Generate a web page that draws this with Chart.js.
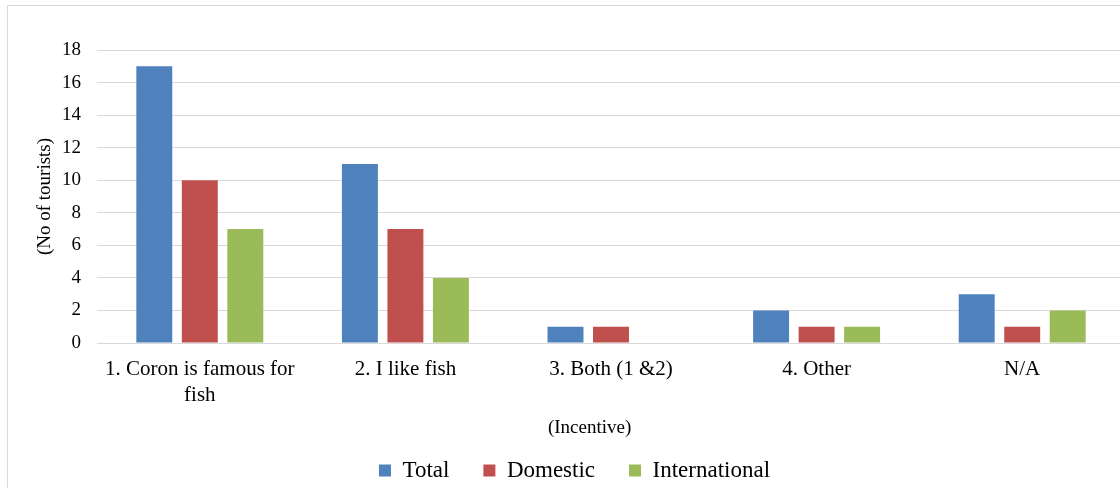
<!DOCTYPE html>
<html>
<head>
<meta charset="utf-8">
<script src="https://cdn.jsdelivr.net/npm/chart.js@4.4.1/dist/chart.umd.min.js"></script>
<style>
  html, body { margin: 0; padding: 0; background: #fff; overflow: hidden; }
  #wrap { position: absolute; left: 7px; top: 5px; width: 1130px; height: 500px; border: 1px solid #d9d9d9; }
</style>
</head>
<body>
<div id="wrap"><canvas id="chart" width="1130" height="500"></canvas></div>
<script>
var categories = [['1. Coron is famous for', 'fish'], '2. I like fish', '3. Both (1 &2)', '4. Other', 'N/A'];
var totalValues = [17, 11, 1, 2, 3];
var domesticValues = [10, 7, 1, 1, 1];
var internationalValues = [7, 4, 0, 1, 2];
var yMin = 0, yMax = 18, yStep = 2;

var serif = "'Liberation Serif', 'Times New Roman', serif";

// nudge the legend right so it sits where the original one does
var legendShift = {
    id: 'legendShift',
    afterLayout: function (chart) {
        chart.legend.left += 8;
        chart.legend.right += 8;
    }
};

var ctx = document.getElementById('chart');
new Chart(ctx, {
    type: 'bar',
    data: {
        labels: categories,
        datasets: [
            { label: 'Total', data: totalValues, backgroundColor: '#4F81BD', borderWidth: 0 },
            { label: 'Domestic', data: domesticValues, backgroundColor: '#C0504D', borderWidth: 0 },
            { label: 'International', data: internationalValues, backgroundColor: '#9BBB59', borderWidth: 0 }
        ]
    },
    options: {
        responsive: false,
        animation: false,
        categoryPercentage: 0.664,
        barPercentage: 0.79,
        layout: { padding: { top: 44, right: 13, bottom: 14, left: 0 } },
        plugins: {
            tooltip: { enabled: false },
            legend: {
                position: 'bottom',
                labels: {
                    boxWidth: 12,
                    boxHeight: 12,
                    padding: 34,
                    color: '#000',
                    font: { family: serif, size: 23 }
                }
            }
        },
        scales: {
            x: {
                grid: { display: false, drawTicks: false },
                border: { display: false },
                ticks: {
                    color: '#000',
                    padding: 14,
                    maxRotation: 0,
                    autoSkip: false,
                    font: { family: serif, size: 21, lineHeight: 1.22 }
                },
                title: {
                    display: true,
                    text: '(Incentive)         ',
                    color: '#000',
                    padding: { top: 0, bottom: -14 },
                    font: { family: serif, size: 19 }
                },
                afterFit: function (scale) { scale.height = 82; }
            },
            y: {
                min: yMin,
                max: yMax,
                grid: { color: '#d9d9d9', lineWidth: 1, drawTicks: false },
                border: { display: false },
                ticks: {
                    stepSize: yStep,
                    color: '#000',
                    padding: 16,
                    font: { family: serif, size: 19 }
                },
                title: {
                    display: true,
                    text: '(No of tourists)',
                    color: '#000',
                    padding: { top: 26, bottom: 0 },
                    font: { family: serif, size: 19 }
                },
                afterFit: function (scale) { scale.width = 89; }
            }
        }
    },
    plugins: [legendShift]
});
</script>
</body>
</html>
